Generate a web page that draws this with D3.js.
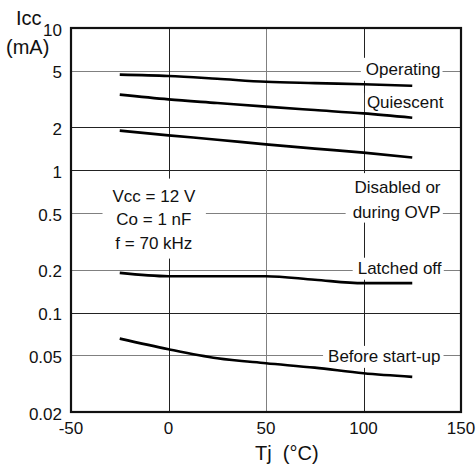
<!DOCTYPE html>
<html>
<head>
<meta charset="utf-8">
<script src="https://cdn.jsdelivr.net/npm/d3@7"></script>
<style>
html,body{margin:0;padding:0;background:#fff;}
svg{display:block;}
text{font-family:"Liberation Sans",Arial,Helvetica,sans-serif;font-size:17px;fill:#111;}
text.title{font-size:20px;}
</style>
</head>
<body>
<svg id="chart" width="476" height="470"></svg>
<script>
// ---- data ----
const temps = [-25, 0, 25, 50, 75, 100, 125];
const operating   = [4.70, 4.60, 4.40, 4.19, 4.10, 4.02, 3.93];
const quiescent   = [3.40, 3.15, 2.97, 2.80, 2.65, 2.51, 2.34];
const disabled    = [1.90, 1.76, 1.64, 1.52, 1.42, 1.33, 1.23];
const latchedOff  = [0.190, 0.180, 0.180, 0.180, 0.170, 0.161, 0.161];
const beforeStart = [0.0656, 0.0552, 0.0477, 0.0440, 0.0410, 0.0374, 0.0353];
const xTicks = [-50, 0, 50, 100, 150];
const yTicks = [0.02, 0.05, 0.1, 0.2, 0.5, 1, 2, 5, 10];
const yTickLabels = ["0.02", "0.05", "0.1", "0.2", "0.5", "1", "2", "5", "10"];
const seriesNames = ["Operating", "Quiescent", "Disabled or|during OVP", "Latched off", "Before start-up"];
const conditions = ["Vcc = 12 V", "Co = 1 nF", "f = 70 kHz"];

// ---- layout ----
const svg = d3.select("#chart");
const L = 71, R = 461, T = 28, B = 412;
const x = d3.scaleLinear().domain([-50, 150]).range([L, R]);
const y = d3.scaleLog().domain([0.02, 10]).range([B, T]);

// gridlines
const darkY = new Set([1, 0.1, 2]);
const gridY = yTicks.filter(v => v !== 0.02 && v !== 10);
svg.append("g").selectAll("line").data(gridY).join("line")
  .attr("x1", L).attr("x2", R)
  .attr("y1", d => Math.round(y(d)) + 0.5).attr("y2", d => Math.round(y(d)) + 0.5)
  .attr("stroke", d => darkY.has(d) ? "#222" : "#808080").attr("stroke-width", 1);
const gridX = xTicks.filter(v => v !== -50 && v !== 150);
svg.append("g").selectAll("line").data(gridX).join("line")
  .attr("y1", T).attr("y2", B)
  .attr("x1", d => Math.round(x(d)) + 0.5).attr("x2", d => Math.round(x(d)) + 0.5)
  .attr("stroke", d => d === 50 ? "#808080" : "#222").attr("stroke-width", 1);

// labels with white backgrounds
const labelG = svg.append("g");
function boxedText(lines, xPos, baseY, lineH, anchor, padX, padT, padB) {
  const g = labelG.append("g");
  const rect = g.append("rect").attr("fill", "#fff");
  const t = g.append("text").attr("text-anchor", anchor);
  lines.forEach((s, i) => {
    t.append("tspan").attr("x", xPos).attr("y", baseY + i * lineH).text(s);
  });
  const bb = t.node().getBBox();
  rect.attr("x", bb.x - padX[0]).attr("y", bb.y - padT)
      .attr("width", bb.width + padX[0] + padX[1]).attr("height", bb.height + padT + padB);
}
const labelEnd = x(139.5);
boxedText([seriesNames[0]], labelEnd, y(5) + 4, 0, "end", [5, 2], 2, 2);
boxedText([seriesNames[1]], x(141), y(3.4) + 13.6, 0, "end", [2, 0], 0, 0);
boxedText(seriesNames[2].split("|"), labelEnd, y(0.5) - 20, 24.5, "end", [7, 2], 5, 1);
boxedText([seriesNames[3]], labelEnd + 1, y(0.2) + 4, 0, "end", [5, 2], 1, 2);
boxedText([seriesNames[4]], labelEnd, y(0.05) + 6.5, 0, "end", [5, 3], 1, 2);
// conditions box
boxedText(conditions, x(-7.5), y(0.5) - 11.5, 23.5, "middle", [10, 10], 8, 6);

// frame
svg.append("rect").attr("x", L).attr("y", T).attr("width", R - L).attr("height", B - T)
  .attr("fill", "none").attr("stroke", "#111").attr("stroke-width", 2.2);

// curves
const all = [operating, quiescent, disabled, latchedOff, beforeStart];
const line = d3.line().x((d, i) => x(temps[i])).y(d => y(d)).curve(d3.curveMonotoneX);
svg.append("g").selectAll("path").data(all).join("path")
  .attr("d", d => line(d)).attr("fill", "none").attr("stroke", "#000")
  .attr("stroke-width", 2.6).attr("stroke-linecap", "butt");

// y tick labels
svg.append("g").selectAll("text").data(yTicks).join("text")
  .attr("x", 62).attr("y", d => y(d) + 7.5).attr("text-anchor", "end")
  .text((d, i) => yTickLabels[i]);
// x tick labels
svg.append("g").selectAll("text").data(xTicks).join("text")
  .attr("x", d => x(d)).attr("y", B + 22).attr("text-anchor", "middle")
  .text(d => String(d));

// axis titles
svg.append("text").attr("class", "title").attr("x", 16).attr("y", 25).text("Icc");
svg.append("text").attr("class", "title").attr("x", 6).attr("y", 54).text("(mA)");
svg.append("text").attr("class", "title").attr("x", 255).attr("y", 460).attr("xml:space", "preserve").text("Tj  (°C)");
</script>
</body>
</html>
